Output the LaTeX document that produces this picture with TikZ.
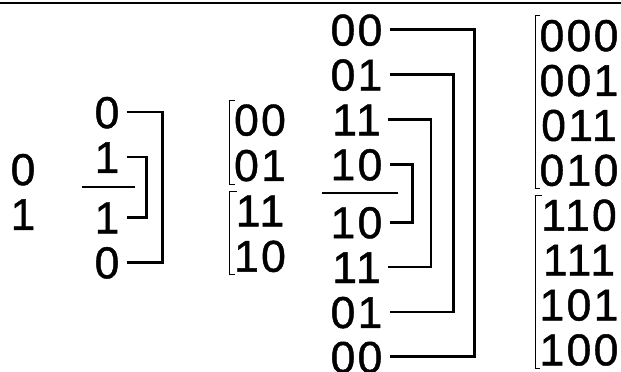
\documentclass[tikz,border=0pt]{standalone}
\usepackage{fontspec}
\newfontfamily\bitfont[LetterSpace=5.2, FakeBold=1]{Liberation Sans}
\usetikzlibrary{positioning}

\tikzset{
    bits/.style={font=\bitfont\fontsize{44.5pt}{50pt}\selectfont, inner sep=0pt, text height=32pt, text depth=0pt},
    link/.style={line width=2.8pt},
    mirror/.style={line width=2.8pt},
    pair/.style={line width=1pt},
}

\begin{document}
\begin{tikzpicture}[x=1pt, y=-1pt, node distance=12.5pt]

    \useasboundingbox (0,0) rectangle (621,372);
    \draw[line width=1.5pt] (0,3) -- (621,3);

    % one bit
    \node[bits] (one1) at (23,169) {0};
    \node[bits, below=of one1] (one2) {1};

    % one bit, reflected
    \node[bits] (refl1) at (107,112) {0};
    \node[bits, below=of refl1] (refl2) {1};
    \node[bits, below=28pt of refl2] (refl3) {1};
    \node[bits, below=of refl3] (refl4) {0};

    \coordinate (cut1l) at (82,187);
    \coordinate (cut1r) at (135,187);
    \draw[mirror] (cut1l) -- (cut1r);

    \draw[link] ([xshift=7pt]refl1.east) -- ++(36,0) |- ([xshift=7pt]refl4.east);
    \draw[link] ([xshift=7pt]refl2.east) -- ++(20,0) |- ([xshift=7pt]refl3.east);

    % two bits
    \node[bits] (two1) at (260,119.5) {00};
    \node[bits, below=13pt of two1] (two2) {01};
    \node[bits, below=13pt of two2] (two3) {11};
    \node[bits, below=13pt of two3] (two4) {10};

    \draw[pair] ([xshift=1pt,yshift=3pt]two1.north west) -| ([xshift=-4pt,yshift=-3pt]two2.south west) -- ++(5,0);
    \draw[pair] ([xshift=1pt,yshift=3pt]two3.north west) -| ([xshift=-4pt,yshift=-3pt]two4.south west) -- ++(5,0);

    % two bits, reflected
    \node[bits] (mir1) at (356.5,29.5) {00};
    \node[bits, below=of mir1] (mir2) {01};
    \node[bits, below=of mir2] (mir3) {11};
    \node[bits, below=of mir3] (mir4) {10};
    \node[bits, below=25.5pt of mir4] (mir5) {10};
    \node[bits, below=of mir5] (mir6) {11};
    \node[bits, below=of mir6] (mir7) {01};
    \node[bits, below=of mir7] (mir8) {00};

    \coordinate (cut2l) at (322,193);
    \coordinate (cut2r) at (398,193);
    \draw[mirror] (cut2l) -- (cut2r);

    \draw[link] ([xshift=7pt]mir1.east) -- ++(85,0) |- ([xshift=7pt]mir8.east);
    \draw[link] ([xshift=7pt]mir2.east) -- ++(64,0) |- ([xshift=7pt]mir7.east);
    \draw[link] ([xshift=7pt]mir3.east) -- ++(43,0) |- ([xshift=7pt]mir6.east);
    \draw[link] ([xshift=7pt]mir4.east) -- ++(23,0) |- ([xshift=7pt]mir5.east);

    % three bits
    \node[bits] (three1) at (579,35) {000};
    \node[bits, below=of three1] (three2) {001};
    \node[bits, below=of three2] (three3) {011};
    \node[bits, below=of three3] (three4) {010};
    \node[bits, below=of three4] (three5) {110};
    \node[bits, below=of three5] (three6) {111};
    \node[bits, below=of three6] (three7) {101};
    \node[bits, below=of three7] (three8) {100};

    \draw[pair] ([xshift=1pt,yshift=3pt]three1.north west) -| ([xshift=-4pt,yshift=-3pt]three4.south west) -- ++(5,0);
    \draw[pair] ([xshift=1pt,yshift=3pt]three5.north west) -| ([xshift=-4pt,yshift=-3pt]three8.south west) -- ++(5,0);

\end{tikzpicture}
\end{document}
